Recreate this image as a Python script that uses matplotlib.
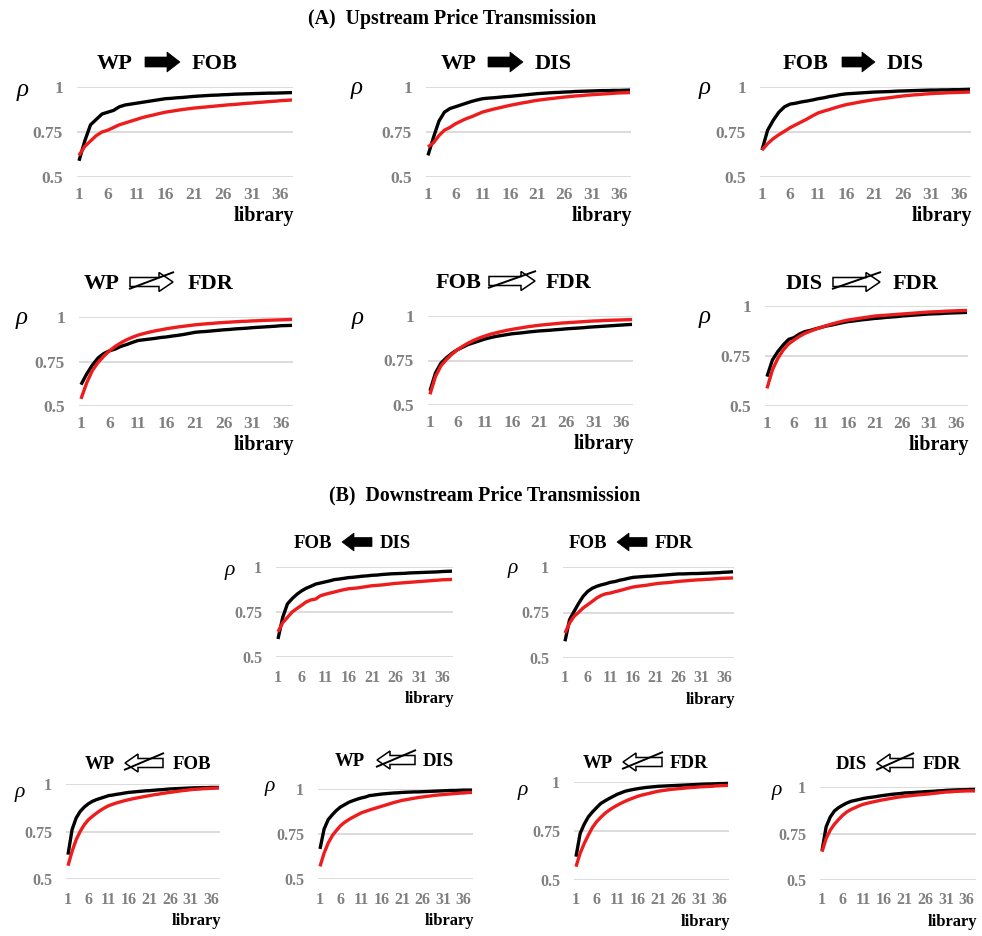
import matplotlib
matplotlib.use("Agg")
import matplotlib.pyplot as plt
from matplotlib.patches import Polygon

W, H = 982, 936
SERIF = "Liberation Serif"

# ---------------- data ----------------
library = list(range(1, 39))
xtick_values = [1, 6, 11, 16, 21, 26, 31, 36]
ytick_values = [0.5, 0.75, 1.0]
ytick_labels = ["0.5", "0.75", "1"]
x_label = "library"
y_label = "\u03c1"
section_a = "(A)  Upstream Price Transmission"
section_b = "(B)  Downstream Price Transmission"

titles = [("WP", "FOB"), ("WP", "DIS"), ("FOB", "DIS"),
          ("WP", "FDR"), ("FOB", "FDR"), ("DIS", "FDR"),
          ("FOB", "DIS"), ("FOB", "FDR"),
          ("WP", "FOB"), ("WP", "DIS"), ("WP", "FDR"), ("DIS", "FDR")]

wp_fob_up_black = [0.59, 0.70, 0.79, 0.82, 0.85, 0.86, 0.87, 0.89, 0.90, 0.905, 0.91, 0.915, 0.92, 0.925, 0.93, 0.935, 0.937, 0.94, 0.942, 0.945, 0.948, 0.95, 0.952, 0.954, 0.955, 0.957, 0.958, 0.96, 0.961, 0.962, 0.963, 0.964, 0.965, 0.966, 0.966, 0.967, 0.968, 0.969]
wp_fob_up_red = [0.62, 0.67, 0.70, 0.73, 0.75, 0.76, 0.775, 0.79, 0.80, 0.81, 0.82, 0.83, 0.838, 0.845, 0.853, 0.86, 0.865, 0.87, 0.875, 0.879, 0.883, 0.886, 0.889, 0.892, 0.895, 0.898, 0.901, 0.903, 0.906, 0.909, 0.911, 0.914, 0.916, 0.919, 0.921, 0.924, 0.926, 0.928]

wp_dis_up_black = [0.62, 0.72, 0.81, 0.86, 0.88, 0.89, 0.90, 0.91, 0.92, 0.928, 0.935, 0.938, 0.94, 0.943, 0.946, 0.948, 0.951, 0.954, 0.957, 0.96, 0.963, 0.965, 0.967, 0.969, 0.97, 0.972, 0.973, 0.975, 0.976, 0.977, 0.978, 0.979, 0.98, 0.98, 0.981, 0.981, 0.982, 0.983]
wp_dis_up_red = [0.667, 0.69, 0.73, 0.76, 0.775, 0.795, 0.81, 0.824, 0.835, 0.848, 0.861, 0.869, 0.877, 0.884, 0.891, 0.898, 0.904, 0.91, 0.915, 0.921, 0.926, 0.93, 0.934, 0.937, 0.941, 0.944, 0.947, 0.95, 0.952, 0.955, 0.957, 0.959, 0.961, 0.963, 0.965, 0.967, 0.968, 0.969]

fob_dis_up_black = [0.65, 0.76, 0.815, 0.86, 0.89, 0.905, 0.91, 0.917, 0.922, 0.928, 0.935, 0.94, 0.947, 0.952, 0.958, 0.962, 0.964, 0.966, 0.968, 0.97, 0.972, 0.973, 0.974, 0.975, 0.977, 0.978, 0.979, 0.98, 0.981, 0.982, 0.983, 0.983, 0.984, 0.984, 0.985, 0.985, 0.986, 0.987]
fob_dis_up_red = [0.65, 0.685, 0.713, 0.735, 0.754, 0.774, 0.79, 0.806, 0.822, 0.84, 0.856, 0.866, 0.875, 0.885, 0.894, 0.902, 0.908, 0.914, 0.92, 0.925, 0.93, 0.934, 0.938, 0.942, 0.946, 0.95, 0.953, 0.956, 0.958, 0.961, 0.963, 0.965, 0.966, 0.968, 0.969, 0.97, 0.971, 0.972]

wp_fdr_up_black = [0.62, 0.68, 0.73, 0.77, 0.795, 0.81, 0.82, 0.835, 0.845, 0.857, 0.868, 0.872, 0.876, 0.88, 0.885, 0.888, 0.893, 0.897, 0.902, 0.908, 0.914, 0.917, 0.919, 0.922, 0.925, 0.928, 0.93, 0.933, 0.935, 0.937, 0.94, 0.942, 0.944, 0.946, 0.948, 0.951, 0.952, 0.953]
wp_fdr_up_red = [0.54, 0.63, 0.70, 0.745, 0.78, 0.81, 0.835, 0.855, 0.872, 0.886, 0.898, 0.907, 0.915, 0.922, 0.928, 0.934, 0.939, 0.944, 0.948, 0.952, 0.956, 0.959, 0.962, 0.964, 0.967, 0.969, 0.971, 0.973, 0.975, 0.976, 0.978, 0.979, 0.981, 0.982, 0.983, 0.984, 0.985, 0.986]

fob_fdr_up_black = [0.58, 0.68, 0.735, 0.765, 0.79, 0.81, 0.825, 0.84, 0.85, 0.86, 0.87, 0.878, 0.885, 0.89, 0.895, 0.9, 0.903, 0.906, 0.91, 0.913, 0.916, 0.918, 0.92, 0.923, 0.925, 0.928, 0.93, 0.932, 0.934, 0.937, 0.939, 0.941, 0.943, 0.945, 0.947, 0.949, 0.951, 0.953]
fob_fdr_up_red = [0.56, 0.66, 0.72, 0.755, 0.785, 0.81, 0.83, 0.848, 0.863, 0.876, 0.887, 0.897, 0.905, 0.912, 0.919, 0.925, 0.93, 0.935, 0.94, 0.944, 0.948, 0.951, 0.954, 0.957, 0.96, 0.962, 0.964, 0.966, 0.968, 0.97, 0.972, 0.973, 0.975, 0.976, 0.977, 0.978, 0.979, 0.98]

dis_fdr_up_black = [0.647, 0.73, 0.772, 0.805, 0.833, 0.842, 0.86, 0.872, 0.878, 0.886, 0.893, 0.9, 0.905, 0.911, 0.917, 0.922, 0.925, 0.929, 0.932, 0.935, 0.938, 0.94, 0.943, 0.945, 0.947, 0.95, 0.952, 0.954, 0.956, 0.958, 0.96, 0.961, 0.962, 0.964, 0.965, 0.966, 0.967, 0.968]
dis_fdr_up_red = [0.588, 0.68, 0.738, 0.78, 0.81, 0.83, 0.848, 0.863, 0.874, 0.884, 0.893, 0.902, 0.91, 0.917, 0.924, 0.93, 0.934, 0.938, 0.942, 0.946, 0.95, 0.952, 0.954, 0.956, 0.958, 0.96, 0.962, 0.964, 0.966, 0.968, 0.97, 0.971, 0.972, 0.974, 0.975, 0.976, 0.977, 0.978]

fob_dis_down_black = [0.60, 0.72, 0.795, 0.824, 0.848, 0.867, 0.882, 0.893, 0.905, 0.911, 0.917, 0.923, 0.93, 0.933, 0.937, 0.941, 0.943, 0.946, 0.949, 0.951, 0.954, 0.955, 0.958, 0.96, 0.962, 0.963, 0.964, 0.965, 0.967, 0.968, 0.969, 0.97, 0.971, 0.972, 0.973, 0.975, 0.976, 0.977]
fob_dis_down_red = [0.64, 0.69, 0.72, 0.75, 0.769, 0.787, 0.806, 0.817, 0.822, 0.84, 0.848, 0.855, 0.861, 0.868, 0.874, 0.879, 0.881, 0.884, 0.888, 0.892, 0.896, 0.898, 0.9, 0.903, 0.906, 0.909, 0.911, 0.913, 0.915, 0.917, 0.919, 0.921, 0.923, 0.925, 0.927, 0.929, 0.93, 0.931]

fob_fdr_down_black = [0.592, 0.71, 0.756, 0.80, 0.839, 0.866, 0.883, 0.894, 0.902, 0.908, 0.916, 0.92, 0.927, 0.932, 0.938, 0.943, 0.945, 0.947, 0.949, 0.95, 0.952, 0.954, 0.956, 0.958, 0.96, 0.962, 0.962, 0.963, 0.964, 0.964, 0.965, 0.966, 0.967, 0.968, 0.969, 0.971, 0.972, 0.974]
fob_fdr_down_red = [0.637, 0.692, 0.729, 0.751, 0.775, 0.793, 0.811, 0.83, 0.844, 0.853, 0.857, 0.864, 0.87, 0.877, 0.884, 0.89, 0.894, 0.897, 0.9, 0.904, 0.908, 0.911, 0.913, 0.915, 0.918, 0.921, 0.923, 0.925, 0.927, 0.929, 0.93, 0.932, 0.933, 0.935, 0.937, 0.938, 0.939, 0.94]

wp_fob_down_black = [0.628, 0.76, 0.821, 0.856, 0.879, 0.896, 0.909, 0.918, 0.925, 0.932, 0.939, 0.942, 0.946, 0.949, 0.953, 0.956, 0.958, 0.96, 0.962, 0.964, 0.965, 0.967, 0.969, 0.97, 0.972, 0.974, 0.975, 0.976, 0.977, 0.978, 0.979, 0.98, 0.98, 0.981, 0.981, 0.982, 0.982, 0.982]
wp_fob_down_red = [0.57, 0.646, 0.707, 0.751, 0.786, 0.812, 0.83, 0.847, 0.862, 0.875, 0.886, 0.894, 0.901, 0.907, 0.913, 0.918, 0.923, 0.927, 0.931, 0.935, 0.939, 0.943, 0.946, 0.95, 0.953, 0.956, 0.959, 0.962, 0.965, 0.967, 0.97, 0.972, 0.973, 0.975, 0.976, 0.977, 0.978, 0.979]

wp_dis_down_black = [0.667, 0.778, 0.83, 0.857, 0.881, 0.90, 0.913, 0.926, 0.935, 0.943, 0.95, 0.955, 0.963, 0.966, 0.969, 0.972, 0.974, 0.976, 0.978, 0.979, 0.981, 0.982, 0.983, 0.984, 0.984, 0.985, 0.986, 0.987, 0.988, 0.989, 0.99, 0.991, 0.992, 0.992, 0.993, 0.994, 0.994, 0.994]
wp_dis_down_red = [0.57, 0.644, 0.70, 0.741, 0.77, 0.796, 0.815, 0.83, 0.843, 0.855, 0.867, 0.875, 0.883, 0.89, 0.897, 0.904, 0.911, 0.918, 0.925, 0.931, 0.937, 0.941, 0.945, 0.949, 0.953, 0.956, 0.959, 0.962, 0.965, 0.967, 0.969, 0.971, 0.973, 0.975, 0.977, 0.978, 0.98, 0.981]

wp_fdr_down_black = [0.619, 0.737, 0.785, 0.822, 0.847, 0.869, 0.89, 0.903, 0.915, 0.926, 0.937, 0.945, 0.953, 0.958, 0.962, 0.966, 0.969, 0.972, 0.974, 0.976, 0.978, 0.979, 0.98, 0.981, 0.982, 0.983, 0.984, 0.985, 0.986, 0.987, 0.988, 0.989, 0.99, 0.99, 0.991, 0.992, 0.992, 0.993]
wp_fdr_down_red = [0.568, 0.636, 0.686, 0.729, 0.768, 0.797, 0.819, 0.839, 0.855, 0.869, 0.881, 0.892, 0.902, 0.911, 0.919, 0.927, 0.933, 0.938, 0.943, 0.948, 0.953, 0.956, 0.959, 0.962, 0.964, 0.966, 0.968, 0.97, 0.972, 0.973, 0.975, 0.976, 0.977, 0.978, 0.98, 0.981, 0.982, 0.983]

dis_fdr_down_black = [0.657, 0.786, 0.839, 0.871, 0.889, 0.902, 0.914, 0.923, 0.928, 0.933, 0.938, 0.942, 0.945, 0.948, 0.952, 0.955, 0.958, 0.961, 0.963, 0.965, 0.968, 0.969, 0.97, 0.972, 0.973, 0.975, 0.976, 0.977, 0.979, 0.98, 0.982, 0.983, 0.984, 0.985, 0.985, 0.986, 0.987, 0.987]
dis_fdr_down_red = [0.652, 0.723, 0.768, 0.80, 0.825, 0.848, 0.866, 0.879, 0.889, 0.899, 0.907, 0.913, 0.918, 0.923, 0.928, 0.932, 0.936, 0.94, 0.944, 0.947, 0.95, 0.952, 0.955, 0.957, 0.959, 0.961, 0.963, 0.966, 0.968, 0.971, 0.973, 0.974, 0.976, 0.977, 0.978, 0.979, 0.979, 0.979]

series = [
    (wp_fob_up_black, wp_fob_up_red), (wp_dis_up_black, wp_dis_up_red),
    (fob_dis_up_black, fob_dis_up_red), (wp_fdr_up_black, wp_fdr_up_red),
    (fob_fdr_up_black, fob_fdr_up_red), (dis_fdr_up_black, dis_fdr_up_red),
    (fob_dis_down_black, fob_dis_down_red), (fob_fdr_down_black, fob_fdr_down_red),
    (wp_fob_down_black, wp_fob_down_red), (wp_dis_down_black, wp_dis_down_red),
    (wp_fdr_down_black, wp_fdr_down_red), (dis_fdr_down_black, dis_fdr_down_red),
]

# ---------------- layout (pixels) ----------------
# L,R: x of first/last point; T,B: y of 1 and 0.5 gridlines
boxes = [(79, 292, 87, 177), (428, 630, 87, 177), (762, 970, 87, 177),
         (81, 292, 317, 406), (430, 632, 316, 405), (767, 967, 306, 406),
         (278, 452, 567, 657), (565, 733, 567, 658),
         (68, 219, 784, 879), (320, 472, 789, 879), (576, 728, 782, 880), (822, 975, 787, 880)]
# word1 right edge, arrow x0, arrow x1, word2 left edge, title y
title_pos = [(133, 145, 180, 192, 62), (477, 488, 523, 535, 62), (828, 842, 875, 887, 62),
             (120, 130, 173, 188, 282), (481, 489, 535, 546, 281), (823, 833, 880, 893, 282),
             (332, 342, 372, 380, 542), (607, 617, 647, 655, 542),
             (115, 125, 163, 173, 763), (365, 377, 415, 423, 760), (613, 623, 662, 670, 762), (867, 877, 913, 923, 763)]
arrow_kind = ["right", "right", "right", "hright", "hright", "hright",
              "left", "left", "hleft", "hleft", "hleft", "hleft"]
rho_pos = [(23, 90), (357, 88), (705, 88), (22, 318), (358, 318), (705, 317),
           (230, 570), (513, 568), (20, 792), (270, 787), (523, 790), (777, 790)]
big = [True] * 6 + [False] * 6

GRID = "#d9d9d9"
TICK = "#808080"
RED = "#ee1c1c"

fig = plt.figure(figsize=(W / 100, H / 100), dpi=100)
over = fig.add_axes([0, 0, 1, 1])
over.set_xlim(0, W)
over.set_ylim(H, 0)
over.axis("off")
over.set_zorder(5)
over.patch.set_alpha(0)

for i, ((blk, red), (L, R, T, B)) in enumerate(zip(series, boxes)):
    ppu = (R - L) / 37.0
    x0 = 1 - 2.0 / ppu
    x1 = 38 + 1.0 / ppu
    left = L - 2.0
    right = R + 1.0
    ax = fig.add_axes([left / W, 1 - B / H, (right - left) / W, (B - T) / H])
    ax.plot(library, blk, color="black", lw=2.4, solid_capstyle="butt", clip_on=False, zorder=3)
    ax.plot(library, red, color=RED, lw=2.4, solid_capstyle="butt", clip_on=False, zorder=3)
    ax.set_xlim(x0, x1)
    ax.set_ylim(0.5, 1.0)
    ax.set_yticks(ytick_values)
    ax.set_yticklabels(ytick_labels)
    ax.set_xticks(xtick_values)
    ax.set_xticklabels([str(v) for v in xtick_values])
    for s in ax.spines.values():
        s.set_visible(False)
    ax.grid(axis="y", color=GRID, lw=1.3, zorder=0)
    ax.set_axisbelow(True)
    fs = 12.5 if big[i] else 11.5
    ax.tick_params(axis="both", length=0, labelcolor=TICK, labelsize=fs)
    ax.tick_params(axis="x", pad=7.0 if big[i] else 9.0)
    ax.tick_params(axis="y", pad=10.0)
    for lab in ax.get_xticklabels() + ax.get_yticklabels():
        lab.set_fontfamily(SERIF)
        lab.set_fontweight("bold")
    ax.patch.set_alpha(0)

    # x label
    off = 39 if big[i] else 42
    over.text(R + 2, B + off, x_label, ha="right", va="center", fontsize=14.5 if big[i] else 12,
              fontfamily=SERIF, fontweight="bold", color="black")
    # rho
    rx, ry = rho_pos[i]
    over.text(rx, ry, y_label, ha="center", va="center", fontsize=18 if big[i] else 15.5,
              fontfamily=SERIF, fontstyle="italic", color="black")

    # title
    w1, a0, a1, w2, ty = title_pos[i]
    tfs = 16 if big[i] else 13.5
    base = ty + (7.3 if big[i] else 6.2)
    over.text(w1, base, titles[i][0], ha="right", va="baseline", fontsize=tfs,
              fontfamily=SERIF, fontweight="bold", color="black")
    over.text(w2, base, titles[i][1], ha="left", va="baseline", fontsize=tfs,
              fontfamily=SERIF, fontweight="bold", color="black")
    kind = arrow_kind[i]
    if kind in ("right", "left"):
        sh, hh, hl = (5.0, 10.0, 13.0) if big[i] else (4.5, 9.0, 12.0)
    else:
        sh, hh, hl = (4.5, 9.5, 14.0) if big[i] else (4.5, 9.0, 13.0)
    if kind in ("right", "hright"):
        pts = [(a0, ty - sh), (a1 - hl, ty - sh), (a1 - hl, ty - hh), (a1, ty),
               (a1 - hl, ty + hh), (a1 - hl, ty + sh), (a0, ty + sh)]
    else:
        pts = [(a1, ty - sh), (a0 + hl, ty - sh), (a0 + hl, ty - hh), (a0, ty),
               (a0 + hl, ty + hh), (a0 + hl, ty + sh), (a1, ty + sh)]
    if kind in ("right", "left"):
        over.add_patch(Polygon(pts, closed=True, facecolor="black", edgecolor="black", lw=0.5))
    else:
        over.add_patch(Polygon(pts, closed=True, facecolor="white", edgecolor="black", lw=1.1))
        over.plot([a0 - 1, a1 + 1], [ty + 7, ty - 10], color="black", lw=1.4, solid_capstyle="butt")

over.text(452, 19, section_a, ha="center", va="center", fontsize=14.3,
          fontfamily=SERIF, fontweight="bold", color="black")
over.text(485, 495, section_b, ha="center", va="center", fontsize=14.3,
          fontfamily=SERIF, fontweight="bold", color="black")

fig.savefig("out.png", dpi=100, facecolor="white")
